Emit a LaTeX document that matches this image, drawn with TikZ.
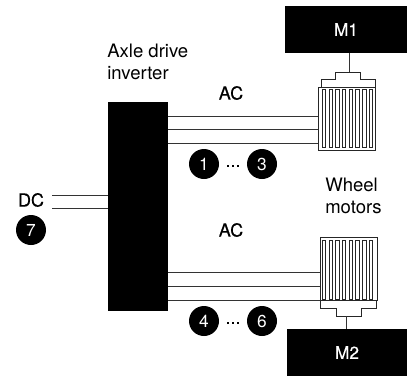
\documentclass[tikz,border=0pt]{standalone}
\usepackage{fontspec}
\setmainfont{TeX Gyre Heros}
\newfontfamily\medfont[FakeBold=0.35]{TeX Gyre Heros}
\def\px{0.75pt}
\tikzset{
  wire/.style={line width=0.75pt,draw=black!80},
  blackbox/.style={fill=black,draw=none,inner sep=0pt,text=white,font=\medfont\fontsize{13}{15}\selectfont},
  badge/.style={circle,fill=black,draw=none,text=white,minimum size=22.5pt,inner sep=0pt,font=\fontsize{13}{15}\selectfont},
  lbl/.style={inner sep=0pt,font=\fontsize{13.9}{16.5}\selectfont},
  medlbl/.style={inner sep=0pt,font=\medfont\fontsize{13.5}{16.5}\selectfont},
  motorline/.style={line width=0.75pt,draw=black!85,fill=white}
}
\begin{document}
\begin{tikzpicture}[x=0.75pt,y=-0.75pt]
\useasboundingbox (0,0) rectangle (407,376);
% inverter
\node[blackbox,minimum width=60*\px,minimum height=209*\px] (inv) at (138,206.5) {};
% drive units
\node[blackbox,minimum width=122*\px,minimum height=47*\px] (m1) at (346,29.5) {M1};
\node[blackbox,minimum width=120*\px,minimum height=47*\px] (m2) at (347,352.5) {M2};
% wheel motors
\node[motorline,draw,minimum width=57*\px,minimum height=63.5*\px,inner sep=0pt] (mota) at (347,118.75) {};
\node[motorline,draw,minimum width=57*\px,minimum height=63*\px,inner sep=0pt] (motb) at (348.5,268.5) {};
\foreach \i in {0,...,7}{
  \draw[motorline] ({322.3+6.7*\i},89) rectangle ({325.8+6.7*\i},147);
  \draw[motorline] ({322.3+6.7*\i},240) rectangle ({325.8+6.7*\i},299);
}
% caps
\draw[motorline,fill=none] (321,87) -- (321,79) -- (335,79) -- (335,72) -- (360,72) -- (360,79) -- (375,79) -- (375,87);
\draw[motorline,fill=none] (320,300) -- (320,308) -- (336,308) -- (336,316) -- (361,316) -- (361,308) -- (376,308) -- (376,300);
\coordinate (capa) at (349,72);
\coordinate (capb) at (346.5,316);
\draw[wire] (m1.south -| capa) -- (capa);
\draw[wire] (capb) -- (m2.north -| capb);
% AC lines
\foreach \y in {116,129.5,143.5}
  \draw[wire] (inv.east |- 0,\y) -- (mota.west |- 0,\y);
\foreach \y in {272.5,286,300}
  \draw[wire] (inv.east |- 0,\y) -- (motb.west |- 0,\y);
% DC lines
\coordinate (dca) at (52,195.5);
\coordinate (dcb) at (52,208);
\draw[wire] (dca) -- (inv.west |- dca);
\draw[wire] (dcb) -- (inv.west |- dcb);
% badges
\node[badge] (b1) at (204,164) {1};
\node[badge] (b3) at (262,164) {3};
\node[badge] (b4) at (204,321) {4};
\node[badge] (b6) at (262,321) {6};
\node[badge] (b7) at (31,230) {7};
\node[medlbl] (d1) at (233,166) {...};
\node[medlbl] (d2) at (233,323) {...};
% labels
\node[lbl,align=left,anchor=north west] (axle) at (107,44) {Axle drive\\inverter};
\node[medlbl] (ac1) at (231,93) {AC};
\node[medlbl] (ac2) at (231,230) {AC};
\node[medlbl] (dc) at (31,200) {DC};
\node[lbl,align=left,anchor=north west] (wheel) at (325,178) {Wheel\\motors};
\end{tikzpicture}
\end{document}
